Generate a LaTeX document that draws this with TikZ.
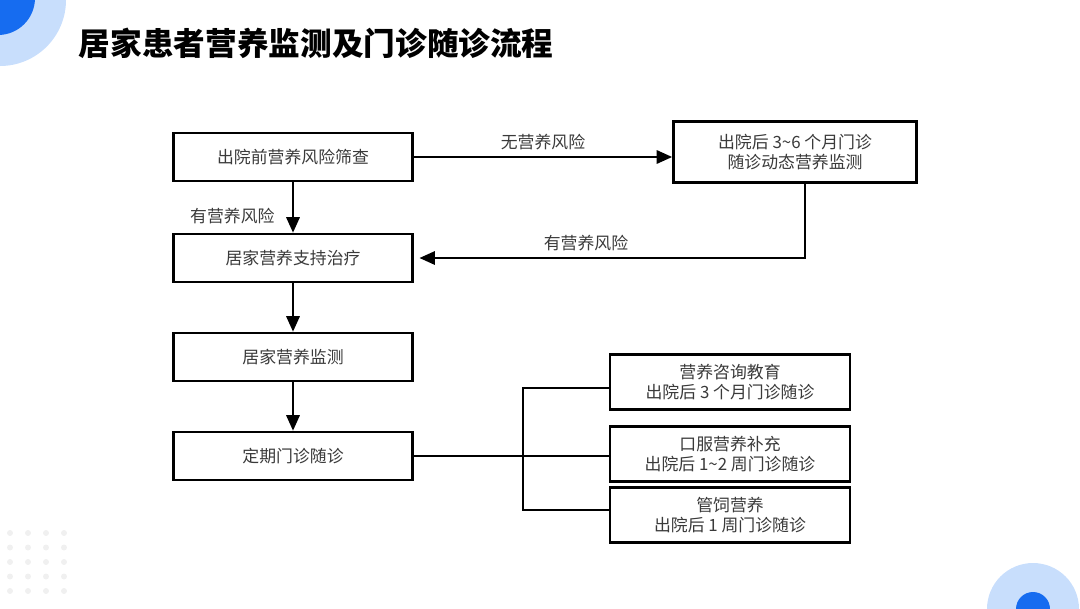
\documentclass[tikz,border=0pt]{standalone}
\usepackage{fontspec}
\setmainfont{Noto Sans CJK SC}
\usepackage{tikz}
\usetikzlibrary{
  calc,
  positioning,
  arrows.meta
}
\definecolor{bluedark}{RGB}{22,108,240}
\definecolor{bluelight}{RGB}{200,222,252}
\definecolor{textgray}{RGB}{58,58,58}
\definecolor{dotgray}{RGB}{240,240,240}
\tikzset{
  boxfont/.style={font=\fontsize{12}{14.5}\selectfont, text=textgray}
}

\begin{document}
\begin{tikzpicture}[
  x=0.025cm, y=-0.025cm,
  box/.style={
    draw=black,
    line width=1.9pt,
    fill=white,
    minimum width=5.975cm,
    minimum height=1.2cm,
    align=center,
    inner sep=2pt,
    boxfont
  },
  widebox/.style={box, minimum width=6.075cm, minimum height=1.525cm},
  sidebox/.style={box, minimum width=6cm, minimum height=1.375cm},
  flow/.style={line width=1.5pt, -{Triangle[length=11pt,width=9.5pt]}},
  link/.style={line width=1.5pt}
]

  \useasboundingbox (0,0) rectangle (1080,608);
  \clip (0,0) rectangle (1080,608);

  % corner decorations
  \fill[bluelight] (0,0) circle[radius=66];
  \fill[bluedark] (-2,-2) circle[radius=37];
  \fill[bluelight] (1033,609) circle[radius=46];
  \fill[bluedark] (1033,609) circle[radius=17];
  \foreach \i in {0,...,3} {
    \foreach \j in {0,...,4} {
      \fill[dotgray] (10+18*\i, 533+14.5*\j) circle[radius=3];
    }
  }

  \node[anchor=west, font=\fontsize{22.5}{26}\selectfont\bfseries] (title) at (74,43)
    {居家患者营养监测及门诊随诊流程};

  \node[box] (screen) at (293,157) {出院前营养风险筛查};
  \node[widebox] (clinic) at (795,152) {出院后 3\textasciitilde6 个月门诊\\随诊动态营养监测};
  \node[box] (support) at (293,258) {居家营养支持治疗};
  \node[box] (monitor) at (293,357) {居家营养监测};
  \node[box] (visit) at (293,456) {定期门诊随诊};

  \node[sidebox] (edu) at (730,382) {营养咨询教育\\出院后 3 个月门诊随诊};
  \node[sidebox] (oral) at (730,454) {口服营养补充\\出院后 1\textasciitilde2 周门诊随诊};
  \node[sidebox] (tube) at (730,515) {管饲营养\\出院后 1 周门诊随诊};

  \draw[flow] (screen.east) -- node[above=1pt, boxfont] {无营养风险} (screen.east -| clinic.west);
  \draw[flow] (screen) -- node[pos=0.68, left=9pt, boxfont] {有营养风险} (support);
  \draw[flow, shorten >=4pt] ($(clinic.south)+(10,0)$) |- node[pos=0.78, above=1pt, boxfont] {有营养风险} (support.east);
  \draw[flow] (support) -- (monitor);
  \draw[flow] (monitor) -- (visit);

  \coordinate (fork) at (523,455);
  \draw[link] (visit.east) -- (visit.east -| oral.west);
  \draw[link] ($(edu.west)+(0,6)$) -| (fork) |- ($(tube.west)+(0,-5)$);

\end{tikzpicture}
\end{document}
